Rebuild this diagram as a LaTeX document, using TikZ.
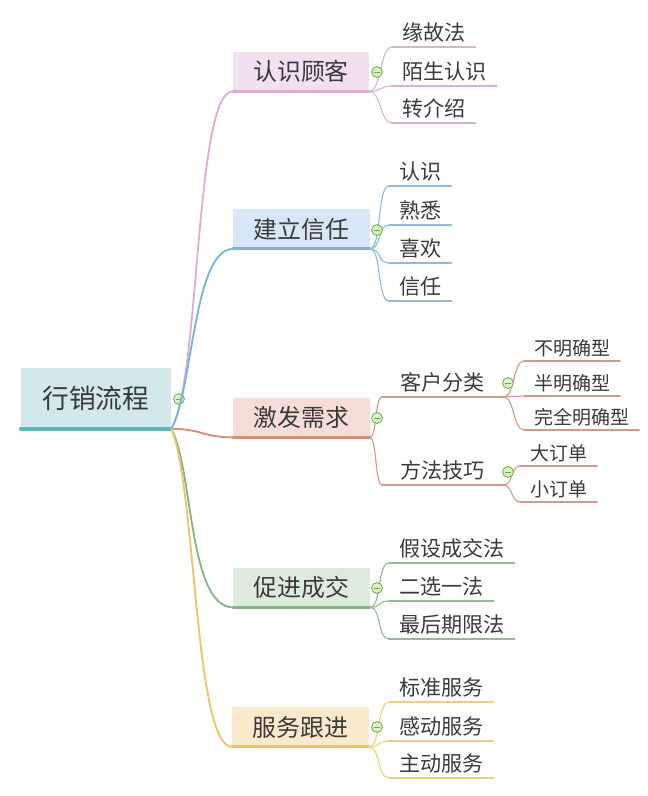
\documentclass[tikz,border=0pt]{standalone}
\usepackage{fontspec}
\newfontfamily\cjk{Noto Sans CJK SC}
\usetikzlibrary{positioning}

\definecolor{txt}{HTML}{3A3A3A}
\definecolor{rootfill}{HTML}{D3E8E8}
\definecolor{rootbar}{HTML}{5CB8B6}
\definecolor{pinkfill}{HTML}{F2DFF0}
\definecolor{pinkbar}{HTML}{DBADDA}
\definecolor{pinkline}{HTML}{D6B2D4}
\definecolor{bluefill}{HTML}{D8E7F7}
\definecolor{bluebar}{HTML}{7AB2D8}
\definecolor{blueline}{HTML}{8CBCD8}
\definecolor{redfill}{HTML}{F5DDD6}
\definecolor{redbar}{HTML}{D98C7A}
\definecolor{redline}{HTML}{CF9A8C}
\definecolor{greenfill}{HTML}{DCEBDC}
\definecolor{greenbar}{HTML}{85B585}
\definecolor{greenline}{HTML}{98B898}
\definecolor{yellowfill}{HTML}{FBE9CC}
\definecolor{yellowbar}{HTML}{F0C466}
\definecolor{yellowline}{HTML}{EDCF80}
\definecolor{foldline}{HTML}{6AAE4A}
\definecolor{foldfill}{HTML}{DCF2C8}

\tikzset{
  topic/.style={minimum width=3.4cm, minimum height=0.98cm, inner sep=0pt,
    font=\cjk\fontsize{17}{20}\selectfont, text=txt},
  subtopic/.style={anchor=south west, minimum width=3.025cm, minimum height=20pt,
    inner sep=0pt, font=\cjk\fontsize{15}{18}\selectfont, text=txt},
  leaf/.style={anchor=south west, inner xsep=7pt, inner ysep=0pt, minimum height=20pt,
    font=\cjk\fontsize{15}{18}\selectfont, text=txt},
  smallleaf/.style={leaf, font=\cjk\fontsize{13.5}{16}\selectfont, minimum height=18pt},
  bar/.style={line width=2.2pt},
  twig/.style={line width=0.8pt},
  fold/.style={circle, draw=foldline, fill=foldfill, line width=0.6pt,
    minimum size=0.27cm, inner sep=0pt,
    path picture={\draw[foldline, line width=0.6pt]
      ([xshift=-2pt]path picture bounding box.center) --
      ([xshift=2pt]path picture bounding box.center);}}
}

\begin{document}
\begin{tikzpicture}[x=0.025cm,y=-0.025cm,line cap=round]
  % one unit = one pixel of the 648x796 sheet, y runs downwards
  \useasboundingbox (0,0) rectangle (648,796);

  % centre topic
  \node[minimum width=3.75cm, minimum height=1.5cm, inner sep=0pt, fill=rootfill,
    font=\cjk\fontsize{19}{22}\selectfont, text=txt] (root) at (96,398.5) {行销流程};
  \draw[rootbar, line width=2.6pt] (root.south west) -- (root.south east);
  \node[fold] (rootf) at (179,399) {};

  % ---- 认识顾客 ----
  \node[topic, fill=pinkfill] (rsgk) at (301,71.5) {认识顾客};
  \draw[pinkbar, bar] (rsgk.south west) -- (rsgk.south east);
  \draw[pinkbar, line width=1.3pt] (root.south east) .. controls +(29,-48) and +(-38,0) .. (rsgk.south west);
  \foreach \t/\y [count=\i] in {缘故法/47, 陌生认识/86, 转介绍/123} {
    \node[leaf] (rsgk\i) at (392,\y) {\t};
    \draw[pinkline, twig] (rsgk\i.south west) -- (rsgk\i.south east);
    \draw[pinkline, twig] (rsgk.south east) .. controls +(12,0) and +(-12,0) .. (rsgk\i.south west);
  }
  \node[fold] (rsgkf) at (377,72) {};

  % ---- 建立信任 ----
  \node[topic, fill=bluefill] (jlxr) at (301.5,229) {建立信任};
  \draw[bluebar, bar] (jlxr.south west) -- (jlxr.south east);
  \draw[bluebar, line width=1.3pt] (root.south east) .. controls +(22,-40) and +(-40,0) .. (jlxr.south west);
  \foreach \t/\y [count=\i] in {认识/186, 熟悉/225, 喜欢/263, 信任/301} {
    \node[leaf] (jlxr\i) at (389,\y) {\t};
    \draw[blueline, twig] (jlxr\i.south west) -- (jlxr\i.south east);
    \draw[blueline, twig] (jlxr.south east) .. controls +(12,0) and +(-12,0) .. (jlxr\i.south west);
  }
  \node[fold] (jlxrf) at (377,230) {};

  % ---- 激发需求 ----
  \node[topic, fill=redfill] (jfxq) at (301.5,417.5) {激发需求};
  \draw[redbar, bar] (jfxq.south west) -- (jfxq.south east);
  \draw[redbar, line width=1.3pt] (root.south east) .. controls +(30,0) and +(-30,0) .. (jfxq.south west);
  \node[subtopic] (khfl) at (382,397) {客户分类};
  \node[subtopic] (ffjq) at (382,485) {方法技巧};
  \foreach \s in {khfl, ffjq} {
    \draw[redline, twig] (\s.south west) -- (\s.south east);
    \draw[redline, twig] (jfxq.south east) .. controls +(7,0) and +(-7,0) .. (\s.south west);
  }
  \foreach \t/\y [count=\i] in {不明确型/361, 半明确型/396, 完全明确型/430} {
    \node[smallleaf] (khfl\i) at (524,\y) {\t};
    \draw[redline, twig] (khfl\i.south west) -- (khfl\i.south east);
    \draw[redline, twig] (khfl.south east) .. controls +(11,0) and +(-11,0) .. (khfl\i.south west);
  }
  \foreach \t/\y [count=\i] in {大订单/466, 小订单/502} {
    \node[smallleaf] (ffjq\i) at (520,\y) {\t};
    \draw[redline, twig] (ffjq\i.south west) -- (ffjq\i.south east);
    \draw[redline, twig] (ffjq.south east) .. controls +(9,0) and +(-9,0) .. (ffjq\i.south west);
  }
  \node[fold] (jfxqf) at (377,418) {};
  \node[fold] (khflf) at (508,383) {};
  \node[fold] (ffjqf) at (508,472) {};

  % ---- 促进成交 ----
  \node[topic, fill=greenfill] (cjcj) at (301.5,587.5) {促进成交};
  \draw[greenbar, bar] (cjcj.south west) -- (cjcj.south east);
  \draw[greenbar, line width=1.3pt] (root.south east) .. controls +(22,40) and +(-45,0) .. (cjcj.south west);
  \foreach \t/\y [count=\i] in {假设成交法/563, 二选一法/601, 最后期限法/639} {
    \node[leaf] (cjcj\i) at (389,\y) {\t};
    \draw[greenline, twig] (cjcj\i.south west) -- (cjcj\i.south east);
    \draw[greenline, twig] (cjcj.south east) .. controls +(12,0) and +(-12,0) .. (cjcj\i.south west);
  }
  \node[fold] (cjcjf) at (377,588) {};

  % ---- 服务跟进 ----
  \node[topic, fill=yellowfill] (fwgj) at (300.5,727) {服务跟进};
  \draw[yellowbar, bar] (fwgj.south west) -- (fwgj.south east);
  \draw[yellowbar, line width=1.3pt] (root.south east) .. controls +(25,60) and +(-38,0) .. (fwgj.south west);
  \foreach \t/\y [count=\i] in {标准服务/702, 感动服务/741, 主动服务/778} {
    \node[leaf] (fwgj\i) at (389,\y) {\t};
    \draw[yellowline, twig] (fwgj\i.south west) -- (fwgj\i.south east);
    \draw[yellowline, twig] (fwgj.south east) .. controls +(12,0) and +(-12,0) .. (fwgj\i.south west);
  }
  \node[fold] (fwgjf) at (377,727) {};
\end{tikzpicture}
\end{document}
